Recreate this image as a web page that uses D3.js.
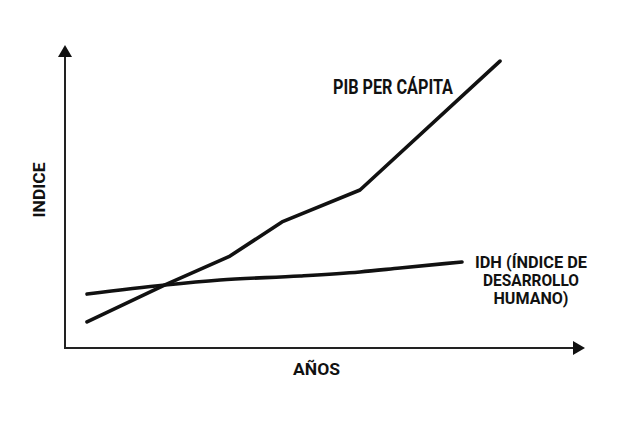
<!DOCTYPE html>
<html>
<head>
<meta charset="utf-8">
<script src="https://cdn.jsdelivr.net/npm/d3@7"></script>
<style>
  html, body { margin: 0; padding: 0; background: #fff; }
  svg { display: block; }
  .lbl { font-family: Roboto, "Liberation Sans", sans-serif; font-weight: 700; fill: #111; }
</style>
</head>
<body>
<div id="chart"></div>
<script>
// abstract "years" and index values
const pibYears = [1.1, 5, 8.25, 10.85, 14.75, 21.75];
const pibValues = [1.72, 4.16, 6.07, 8.32, 10.43, 18.94];

const idhYears = [1.1, 5, 7.75, 11.75, 14.75, 16.75, 19.85];
const idhValues = [3.56, 4.16, 4.49, 4.75, 5.02, 5.28, 5.68];

const xTitle = "AÑOS";
const yTitle = "INDICE";
const pibLabel = ["PIB PER CÁPITA"];
const idhLabel = ["IDH (ÍNDICE DE", "DESARROLLO", "HUMANO)"];

const width = 640, height = 427;
const margin = {top: 45, right: 55, bottom: 79, left: 65};

const svg = d3.select("#chart").append("svg")
    .attr("width", width)
    .attr("height", height);

const x = d3.scaleLinear().domain([0, 26]).range([margin.left, width - margin.right]);
const y = d3.scaleLinear().domain([0, 20]).range([height - margin.bottom, margin.top]);

// arrow heads
const defs = svg.append("defs");
defs.append("marker")
    .attr("id", "arrow")
    .attr("viewBox", "0 0 12 14")
    .attr("refX", 0).attr("refY", 7)
    .attr("markerWidth", 12).attr("markerHeight", 14)
    .attr("markerUnits", "userSpaceOnUse")
    .attr("orient", "auto")
  .append("path")
    .attr("d", "M0,0 L12,7 L0,14 Z")
    .attr("fill", "#111");

const x0 = x.range()[0], x1 = x.range()[1];
const y0 = y.range()[0], y1 = y.range()[1];

// axes: plain lines ending in arrows
svg.append("line")
    .attr("x1", x0).attr("y1", y0)
    .attr("x2", x0).attr("y2", y1 + 12)
    .attr("stroke", "#222").attr("stroke-width", 2)
    .attr("marker-end", "url(#arrow)");

svg.append("line")
    .attr("x1", x0 - 1).attr("y1", y0)
    .attr("x2", x1 - 12).attr("y2", y0)
    .attr("stroke", "#222").attr("stroke-width", 2)
    .attr("marker-end", "url(#arrow)");

// series: PIB is a polyline, IDH a gentle curve
const series = [
    {pts: d3.zip(pibYears, pibValues), curve: d3.curveLinear},
    {pts: d3.zip(idhYears, idhValues), curve: d3.curveMonotoneX}
];

svg.selectAll("path.series")
    .data(series)
    .join("path")
    .attr("class", "series")
    .attr("d", s => d3.line()
        .x(d => x(d[0]))
        .y(d => y(d[1]))
        .curve(s.curve)(s.pts))
    .attr("fill", "none")
    .attr("stroke", "#111")
    .attr("stroke-width", 3.6)
    .attr("stroke-linejoin", "round")
    .attr("stroke-linecap", "round");

// labels
svg.append("text")
    .attr("class", "lbl")
    .attr("x", 333).attr("y", 94)
    .attr("font-size", 20)
    .attr("textLength", 120)
    .attr("lengthAdjust", "spacingAndGlyphs")
    .text(pibLabel[0]);

const idhWidths = [112, 96, 75];
svg.append("g").selectAll("text")
    .data(idhLabel)
    .join("text")
    .attr("class", "lbl")
    .attr("x", 531)
    .attr("y", (d, i) => 268 + i * 17.8)
    .attr("text-anchor", "middle")
    .attr("font-size", 16)
    .attr("textLength", (d, i) => idhWidths[i])
    .attr("lengthAdjust", "spacingAndGlyphs")
    .text(d => d);

svg.append("text")
    .attr("class", "lbl")
    .attr("x", 293).attr("y", 375)
    .attr("font-size", 17)
    .attr("textLength", 47)
    .attr("lengthAdjust", "spacingAndGlyphs")
    .text(xTitle);

svg.append("text")
    .attr("class", "lbl")
    .attr("transform", "translate(45,190) rotate(-90)")
    .attr("text-anchor", "middle")
    .attr("font-size", 17)
    .attr("textLength", 55)
    .attr("lengthAdjust", "spacingAndGlyphs")
    .text(yTitle);
</script>
</body>
</html>
